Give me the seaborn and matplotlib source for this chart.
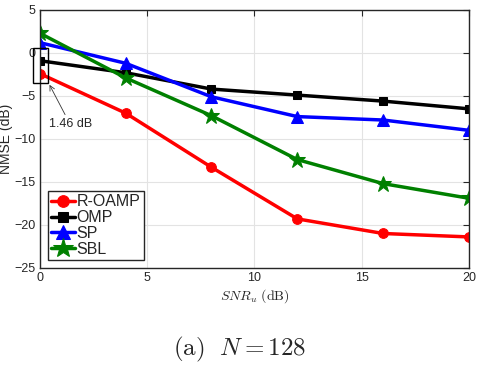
import pandas as pd
import matplotlib
matplotlib.use('Agg')
import matplotlib.pyplot as plt
import matplotlib.patches as mpatches
import seaborn as sns

# ── Data ──────────────────────────────────────────────────────────────────────
snr = [0, 4, 8, 12, 16, 20]
r_oamp = [-2.4, -7.0, -13.3, -19.3, -21.0, -21.4]
omp = [-0.9, -2.3, -4.2, -4.9, -5.6, -6.5]
sp = [1.2, -1.2, -5.1, -7.4, -7.8, -9.0]
sbl = [2.3, -2.9, -7.3, -12.4, -15.2, -16.9]
methods = ['R-OAMP', 'OMP', 'SP', 'SBL']

df = pd.DataFrame({
    'snr': snr * 4,
    'nmse': r_oamp + omp + sp + sbl,
    'method': [m for m in methods for _ in snr],
})

palette = {'R-OAMP': '#ff0000', 'OMP': '#000000', 'SP': '#0000ff', 'SBL': '#008000'}
markers = {'R-OAMP': 'o', 'OMP': 's', 'SP': '^', 'SBL': '*'}
msize = {'R-OAMP': 7, 'OMP': 6, 'SP': 8, 'SBL': 12}

sns.set_style('whitegrid')
plt.rcParams['font.family'] = ['Liberation Sans', 'DejaVu Sans']
plt.rcParams['mathtext.fontset'] = 'cm'

fig = plt.figure(figsize=(4.8, 3.7), dpi=100)
ax = fig.add_axes([0.083, 0.276, 0.894, 0.697])

for m in methods:
    sub = df[df['method'] == m]
    sns.lineplot(data=sub, x='snr', y='nmse', color=palette[m], marker=markers[m],
                 markersize=msize[m], markeredgecolor=palette[m], linewidth=2.5,
                 label=m, ax=ax)

ax.set_xlim(0, 20)
ax.set_ylim(-25, 5)
ax.set_xticks([0, 5, 10, 15, 20])
ax.set_yticks([-25, -20, -15, -10, -5, 0, 5])
ax.tick_params(direction='in', length=4, labelsize=9, colors='#262626',
               top=True, right=True, pad=3)
ax.grid(color='#e3e3e3', linewidth=0.8)
for s in ax.spines.values():
    s.set_color('#262626')
    s.set_linewidth(1.0)

ax.set_xlabel(r'$SNR_u\ \mathrm{(dB)}$', fontsize=10, labelpad=2)
ax.set_ylabel('NMSE (dB)', fontsize=10, labelpad=1)

# box around the gap at 0 dB
rect = mpatches.Rectangle((-0.33, -3.5), 0.7, 4.1, fill=False, edgecolor='black',
                          linewidth=1.0, clip_on=False, zorder=5)
ax.add_patch(rect)
ax.annotate('1.46 dB', xy=(0.45, -3.7), xytext=(0.45, -8.6), fontsize=9,
            arrowprops=dict(arrowstyle='->', color='#333333', lw=0.6,
                            shrinkA=0, shrinkB=0, relpos=(0.4, 1.0)))

leg = ax.legend(loc='lower left', bbox_to_anchor=(0.0, 0.0), fontsize=11.5,
                frameon=True, fancybox=False, framealpha=1, edgecolor='#262626',
                handlelength=1.5, handletextpad=0.1, labelspacing=0.05,
                borderpad=0.2, borderaxespad=0.5, markerscale=1.2)
leg.get_frame().set_linewidth(1.0)

fig.text(0.5, 0.04, r'$\mathrm{(a)}\ \ N=128$', ha='center', fontsize=18)

fig.savefig('out.png', dpi=100)
